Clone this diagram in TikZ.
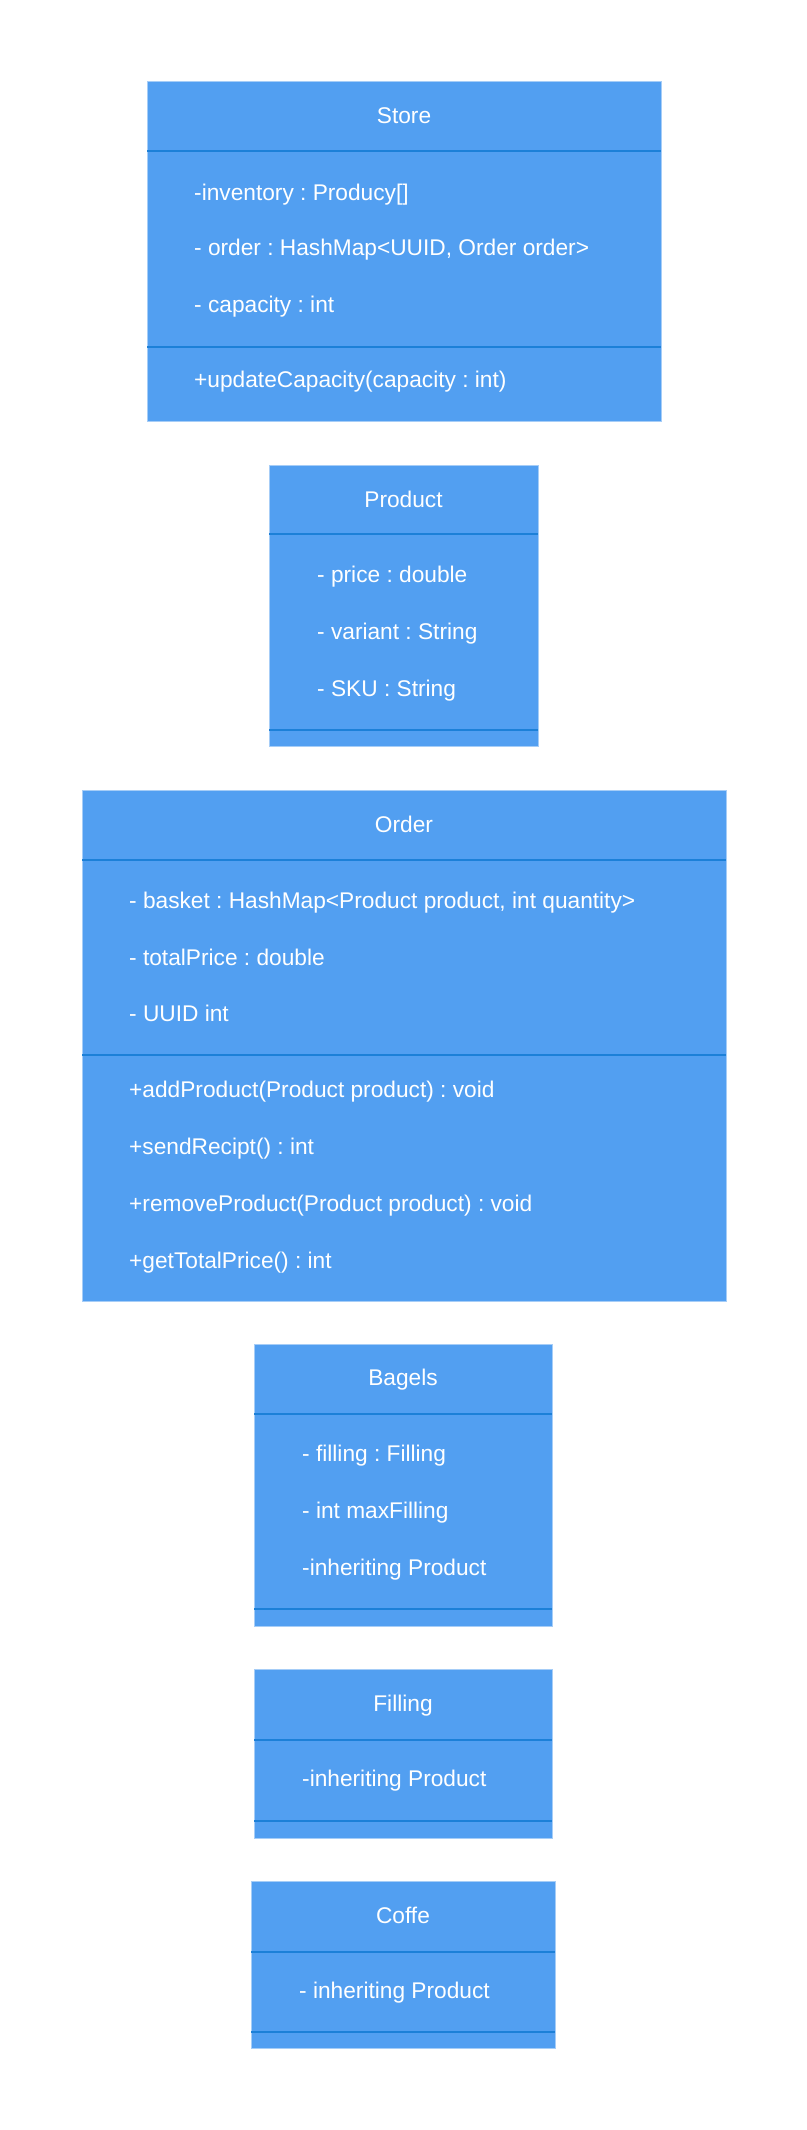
\documentclass[tikz,border=0pt]{standalone}
\usepackage{fontspec}
\setmainfont{Liberation Sans}
\frenchspacing
\definecolor{boxfill}{HTML}{529FF1}
\definecolor{boxedge}{HTML}{A6CDF7}
\definecolor{sepline}{HTML}{1C80D8}
\begin{document}
\begin{tikzpicture}[x=1pt,y=-1pt,
  box/.style={draw=boxedge,line width=1pt,fill=boxfill,anchor=north west,inner sep=0pt,outer sep=0pt},
  sep/.style={draw=sepline,line width=2pt},
  ttl/.style={text=white,font=\fontsize{22.7}{27}\selectfont,anchor=base,inner sep=0pt},
  txt/.style={text=white,font=\fontsize{22.7}{27}\selectfont,anchor=base west,inner sep=0pt}]
\useasboundingbox[fill=white] (0,0) rectangle (806,2130);
% Store
\node[box,minimum width=514pt,minimum height=339pt] (store) at (147,82) {};
\coordinate (s1l) at (147,151); \coordinate (s1r) at (661,151);
\coordinate (s2l) at (147,347); \coordinate (s2r) at (661,347);
\draw[sep] (s1l) -- (s1r); \draw[sep] (s2l) -- (s2r);
\node[ttl] (storet) at (404,124) {Store};
\node[txt] (st1) at (194,200) {-inventory : Producy[]};
\node[txt] (st2) at (194,255) {- order : HashMap<UUID, Order order>};
\node[txt] (st3) at (194,312) {- capacity : int};
\node[txt] (st4) at (194,387) {+updateCapacity(capacity : int)};
% Product
\node[box,minimum width=269pt,minimum height=281pt] (product) at (269,465) {};
\coordinate (p1l) at (269,534); \coordinate (p1r) at (538,534);
\coordinate (p2l) at (269,730); \coordinate (p2r) at (538,730);
\draw[sep] (p1l) -- (p1r); \draw[sep] (p2l) -- (p2r);
\node[ttl] (productt) at (403.5,507) {Product};
\node[txt] (pt1) at (317,582) {- price : double};
\node[txt] (pt2) at (317,639) {- variant : String};
\node[txt] (pt3) at (317,696) {- SKU : String};
% Order
\node[box,minimum width=644pt,minimum height=511pt] (order) at (82,790) {};
\coordinate (o1l) at (82,860); \coordinate (o1r) at (726,860);
\coordinate (o2l) at (82,1055); \coordinate (o2r) at (726,1055);
\draw[sep] (o1l) -- (o1r); \draw[sep] (o2l) -- (o2r);
\node[ttl] (ordert) at (404,832) {Order};
\node[txt] (ot1) at (129,908) {- basket : HashMap<Product product, int quantity>};
\node[txt] (ot2) at (129,965) {- totalPrice : double};
\node[txt] (ot3) at (129,1021) {- UUID int};
\node[txt] (ot4) at (129,1097) {+addProduct(Product product) : void};
\node[txt] (ot5) at (129,1154) {+sendRecipt() : int};
\node[txt] (ot6) at (129,1211) {+removeProduct(Product product) : void};
\node[txt] (ot7) at (129,1268) {+getTotalPrice() : int};
% Bagels
\node[box,minimum width=298pt,minimum height=282pt] (bagels) at (254,1344) {};
\coordinate (b1l) at (254,1414); \coordinate (b1r) at (552,1414);
\coordinate (b2l) at (254,1609); \coordinate (b2r) at (552,1609);
\draw[sep] (b1l) -- (b1r); \draw[sep] (b2l) -- (b2r);
\node[ttl] (bagelst) at (403,1385) {Bagels};
\node[txt] (bt1) at (302,1461) {- filling : Filling};
\node[txt] (bt2) at (302,1518) {- int maxFilling};
\node[txt] (bt3) at (302,1575) {-inheriting Product};
% Filling
\node[box,minimum width=298pt,minimum height=169pt] (filling) at (254,1669) {};
\coordinate (f1l) at (254,1740); \coordinate (f1r) at (552,1740);
\coordinate (f2l) at (254,1821); \coordinate (f2r) at (552,1821);
\draw[sep] (f1l) -- (f1r); \draw[sep] (f2l) -- (f2r);
\node[ttl] (fillingt) at (403,1711) {Filling};
\node[txt] (ft1) at (302,1786) {-inheriting Product};
% Coffe
\node[box,minimum width=304pt,minimum height=167pt] (coffe) at (251,1881) {};
\coordinate (c1l) at (251,1952); \coordinate (c1r) at (555,1952);
\coordinate (c2l) at (251,2032); \coordinate (c2r) at (555,2032);
\draw[sep] (c1l) -- (c1r); \draw[sep] (c2l) -- (c2r);
\node[ttl] (coffet) at (403,1923) {Coffe};
\node[txt] (ct1) at (299,1998) {- inheriting Product};
\end{tikzpicture}
\end{document}
